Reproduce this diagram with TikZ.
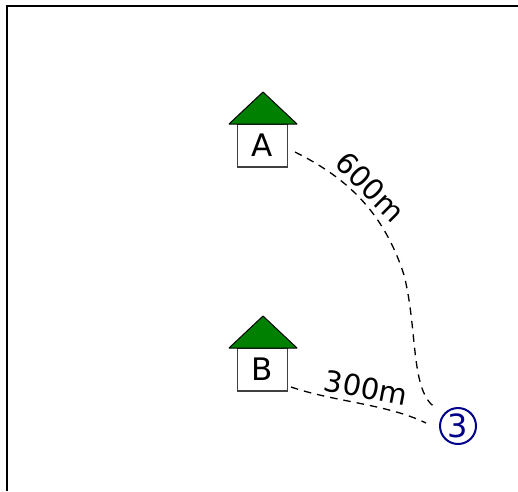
\documentclass[tikz,border=0pt]{standalone}
\usepackage{fontspec}
\setmainfont{DejaVu Sans}
\definecolor{roofgreen}{RGB}{0,128,0}
\definecolor{navyblue}{RGB}{0,0,139}
\tikzset{
  x=1pt,y=-1pt,
  housebody/.style={draw=black!75,line width=1.1pt,minimum width=50pt,minimum height=43pt,inner sep=0pt,fill=white,font=\fontsize{31}{31}\selectfont},
  roof/.style={draw=black,line width=1pt,fill=roofgreen,line join=round},
  road/.style={dash pattern=on 7.5pt off 6pt,line width=1.3pt},
  distlabel/.style={inner sep=0pt,font=\fontsize{29}{29}\selectfont},
  target/.style={circle,draw=navyblue,line width=2pt,text=navyblue,minimum size=36pt,inner sep=0pt,font=\fontsize{32}{32}\selectfont},
  frameline/.style={line width=2pt,black}
}
\begin{document}
\begin{tikzpicture}
\useasboundingbox (0,0) rectangle (518,491);
\draw[frameline] (7,491) -- (7,6) -- (518,6);
\node[housebody] (a) at (262.5,145.5) {A};
\node[housebody] (b) at (262.5,369.5) {B};
\draw[roof] (229,124) -- (263,92) -- (297,124) -- cycle;
\draw[roof] (229,348) -- (263,316) -- (297,348) -- cycle;
\node[target] (c) at (458,426) {3};
\coordinate (as) at (295,152);
\coordinate (bs) at (291,387);
\coordinate (ae) at (436,408);
\coordinate (be) at (426,423);
\draw[road] (as) .. controls (345,177) and (383,210) .. (404,275)
  .. controls (418,330) and (410,392) .. (ae);
\draw[road] (bs) .. controls (335,402) and (387,404) .. (be);
\node[distlabel,rotate=-45] (l1) at (370.5,187) {600m};
\node[distlabel,rotate=-11] (l2) at (366,388) {300m};
\end{tikzpicture}
\end{document}
